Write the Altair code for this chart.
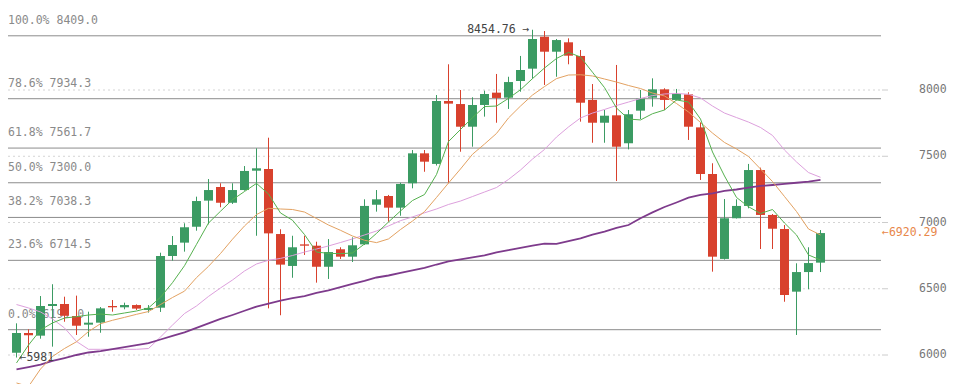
import altair as alt
import pandas as pd

# ---------------- data ----------------
idx = list(range(1, 69))
opens = [6017, 6166, 6146, 6370, 6385, 6294, 6229, 6244, 6370, 6360,
         6377, 6340, 6357, 6747, 6848, 6968, 7165, 7268, 7149, 7245,
         7391, 7404, 6913, 6672, 6835, 6825, 6666, 6798, 6742, 6835,
         7134, 7200, 7112, 7296, 7522, 7442, 7917, 7894, 7723, 7887,
         7980, 7942, 8068, 8161, 8402, 8289, 8360, 8257, 7925, 7753,
         7809, 7598, 7844, 7942, 8005, 7925, 7967, 7718, 7366, 6725,
         7032, 7125, 7396, 7057, 6951, 6478, 6626, 6697]
highs = [6239, 6194, 6445, 6534, 6440, 6448, 6327, 6362, 6415, 6395,
         6382, 6377, 6772, 6898, 6994, 7195, 7328, 7296, 7296, 7426,
         7560, 7640, 6949, 6900, 6900, 6855, 6875, 6813, 6888, 7175,
         7245, 7208, 7300, 7547, 7547, 7962, 8194, 8000, 7945, 7995,
         8121, 8100, 8257, 8454.76, 8445, 8385, 8390, 8302, 8045, 7849,
         8189, 7849, 8000, 8088, 8013, 8008, 7983, 7756, 7447, 7177,
         7175, 7442, 7414, 7064, 6981, 6692, 6813, 6943]
lows = [5981, 6008, 6123, 6063, 6251, 6151, 6138, 6168, 6327, 6345,
        6340, 6320, 6325, 6712, 6780, 6938, 6986, 7115, 7140, 7240,
        6900, 6352, 6300, 6583, 6755, 6546, 6574, 6725, 6702, 6830,
        7082, 7006, 7051, 7258, 7383, 7430, 7296, 7534, 7572, 7799,
        7753, 7857, 7987, 8085, 8038, 8100, 8194, 7761, 7602, 7602,
        7313, 7552, 7781, 7874, 7849, 7920, 7623, 7321, 6629, 6720,
        7030, 7107, 6800, 6800, 6402, 6151, 6496, 6626]
closes = [6166, 6149, 6370, 6385, 6296, 6221, 6244, 6352, 6360, 6377,
          6350, 6355, 6747, 6830, 6964, 7162, 7245, 7149, 7245, 7389,
          7409, 6918, 6682, 6813, 6825, 6666, 6777, 6742, 6828, 7125,
          7175, 7112, 7291, 7522, 7459, 7917, 7897, 7723, 7887, 7970,
          7940, 8060, 8151, 8385, 8289, 8377, 8259, 7904, 7753, 7806,
          7572, 7817, 7934, 8005, 7925, 7970, 7723, 7366, 6742, 7032,
          7125, 7396, 7057, 6953, 6453, 6626, 6694, 6920.29]

ma_green = [5940, 6075, 6189, 6242, 6279, 6289, 6302, 6309, 6302, 6317,
            6332, 6355, 6436, 6546, 6674, 6835, 6996, 7085, 7172, 7234,
            7295, 7215, 7072, 7017, 6909, 6777, 6767, 6765, 6770, 6838,
            6918, 7004, 7087, 7166, 7211, 7362, 7611, 7702, 7791, 7875,
            7879, 7937, 8002, 8086, 8166, 8238, 8284, 8249, 8134, 8018,
            7864, 7781, 7774, 7821, 7849, 7925, 7909, 7781, 7532, 7351,
            7189, 7119, 7068, 7098, 6996, 6906, 6755, 6717]
ma_orange = [5789, 5762, 5894, 5989, 6049, 6100, 6177, 6236, 6262, 6284,
             6307, 6328, 6381, 6434, 6482, 6584, 6669, 6766, 6874, 6974,
             7060, 7107, 7102, 7098, 7079, 7030, 6981, 6941, 6898, 6866,
             6848, 6876, 6947, 7011, 7082, 7189, 7298, 7404, 7515, 7592,
             7672, 7789, 7879, 7962, 8026, 8086, 8113, 8115, 8106, 8083,
             8060, 8034, 8011, 7977, 7955, 7898, 7834, 7755, 7675, 7604,
             7555, 7498, 7404, 7309, 7196, 7083, 6951, 6906]
ma_pink = [6381, 6355, 6325, 6272, 6204, 6102, 6043, 6043, 6043, 6043,
           6043, 6049, 6136, 6226, 6313, 6370, 6442, 6506, 6566, 6634,
           6687, 6715, 6729, 6751, 6777, 6800, 6823, 6849, 6876, 6906,
           6936, 6974, 7014, 7042, 7073, 7102, 7136, 7162, 7196, 7230,
           7264, 7325, 7396, 7479, 7551, 7645, 7721, 7789, 7826, 7853,
           7883, 7909, 7936, 7958, 7970, 7974, 7968, 7940, 7879, 7826,
           7792, 7758, 7717, 7657, 7547, 7457, 7377, 7341]
ma_purple = [5892, 5909, 5928, 5955, 5977, 6000, 6019, 6030, 6045, 6060,
             6075, 6090, 6117, 6145, 6171, 6204, 6238, 6272, 6302, 6334,
             6365, 6387, 6410, 6430, 6445, 6468, 6488, 6513, 6536, 6559,
             6585, 6600, 6619, 6638, 6657, 6683, 6706, 6721, 6736, 6751,
             6774, 6792, 6808, 6826, 6841, 6838, 6860, 6881, 6909, 6932,
             6959, 6981, 7032, 7076, 7117, 7151, 7187, 7208, 7219, 7238,
             7249, 7264, 7276, 7283, 7291, 7300, 7309, 7321]

fib_pct = ["100.0%", "78.6%", "61.8%", "50.0%", "38.2%", "23.6%", "0.0%"]
fib_level = [8409.0, 7934.3, 7561.7, 7300.0, 7038.3, 6714.5, 6191.0]
y_ticks = [6000, 6500, 7000, 7500, 8000]

high_label = "8454.76 →"
low_label = "←5981"
last_label = "←6920.29"

# ---------------- styling / layout ----------------
FONT = "DejaVu Sans Mono"
GREEN = "#3b9b63"
RED = "#d8412d"
PLOT_W, PLOT_H = 873, 376          # plot area (page has an 8px margin)
AXIS_PAD = 86                      # room for right-hand labels (total 959 wide)

x_scale = alt.Scale(domain=[1, 68], range=[8.5, 812.5], padding=0, nice=False, zero=False)
y_scale = alt.Scale(domain=[6000, 8000], range=[347, 82], padding=0, nice=False, zero=False)

candles = pd.DataFrame({"idx": idx, "open": opens, "high": highs,
                        "low": lows, "close": closes})
candles["dir"] = ["up" if c >= o else "down" for o, c in zip(opens, closes)]
color = alt.Color("dir:N", scale=alt.Scale(domain=["up", "down"], range=[GREEN, RED]),
                  legend=None)

fib = pd.DataFrame({"level": fib_level,
                    "label": [f"{p} {v:.1f}" for p, v in zip(fib_pct, fib_level)]})
ticks_df = pd.DataFrame({"v": y_ticks, "t": [str(v) for v in y_ticks]})

X = alt.X("idx:Q", scale=x_scale, axis=None)


def Y(field):
    return alt.Y(field, scale=y_scale, axis=None)


grid = alt.Chart(ticks_df).mark_rule(color="#d4d4d4", strokeWidth=1, strokeDash=[2, 3]).encode(
    y=Y("v:Q"), x=alt.value(0), x2=alt.value(PLOT_W))
tick_marks = alt.Chart(ticks_df).mark_rule(color="#cccccc", strokeWidth=1).encode(
    y=Y("v:Q"), x=alt.value(PLOT_W + 1), x2=alt.value(PLOT_W + 7))
tick_labels = alt.Chart(ticks_df).mark_text(align="left", baseline="middle", font=FONT,
                                            fontSize=11.5, color="#777777").encode(
    y=Y("v:Q"), x=alt.value(PLOT_W + 38), text="t:N")

fib_rules = alt.Chart(fib).mark_rule(color="#8c8c8c", strokeWidth=1).encode(
    y=Y("level:Q"), x=alt.value(0), x2=alt.value(PLOT_W))

fib_text = alt.Chart(fib).mark_text(align="left", baseline="middle", dy=-15,
                                    font=FONT, fontSize=11.5, color="#8a8a8a").encode(
    x=alt.value(0), y=Y("level:Q"), text="label:N")

wicks = alt.Chart(candles).mark_rule(strokeWidth=1).encode(
    x=X, y=Y("low:Q"), y2="high:Q", color=color)

bodies = alt.Chart(candles).mark_bar(size=9).encode(
    x=X, y=Y("open:Q"), y2="close:Q", color=color)


def ma_line(values, col, width):
    df = pd.DataFrame({"idx": idx, "v": values})
    return alt.Chart(df).mark_line(color=col, strokeWidth=width).encode(x=X, y=Y("v:Q"))


pink = ma_line(ma_pink, "#dda0dd", 1)
purple = ma_line(ma_purple, "#7e3b8c", 1.8)
orange = ma_line(ma_orange, "#e3a262", 1)
green = ma_line(ma_green, "#56b14f", 1)

hi_df = pd.DataFrame({"idx": [44], "v": [highs[43]], "t": [high_label]})
hi_text = alt.Chart(hi_df).mark_text(align="right", baseline="middle", dx=-3,
                                     font=FONT, fontSize=11.5, color="#444444").encode(
    x=X, y=Y("v:Q"), text="t:N")

lo_df = pd.DataFrame({"idx": [1], "v": [lows[0]], "t": [low_label]})
lo_text = alt.Chart(lo_df).mark_text(align="left", baseline="middle", dx=3,
                                     font=FONT, fontSize=11.5, color="#444444").encode(
    x=X, y=Y("v:Q"), text="t:N")

last_df = pd.DataFrame({"v": [closes[-1]], "t": [last_label]})
last_text = alt.Chart(last_df).mark_text(align="left", baseline="middle",
                                         font=FONT, fontSize=11.5, color="#e8874a").encode(
    x=alt.value(PLOT_W + 1), y=Y("v:Q"), text="t:N")

chart = alt.layer(
    grid, tick_marks, tick_labels, fib_rules, fib_text, wicks, bodies,
    pink, purple, orange, green, hi_text, lo_text, last_text
).properties(
    width=PLOT_W, height=PLOT_H,
    padding={"left": 0, "top": 0, "right": AXIS_PAD, "bottom": 0},
    autosize=alt.AutoSizeParams(type="none"),
    background="white",
).configure_view(stroke=None)

chart.save("out.html", embed_options={"renderer": "svg", "actions": False})
